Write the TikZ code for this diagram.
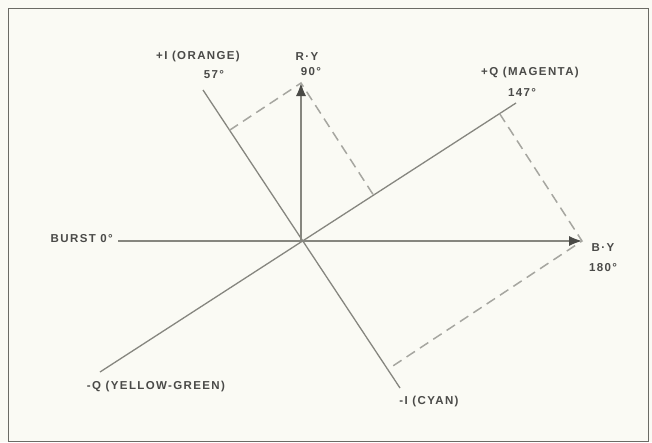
\documentclass[tikz,border=0pt]{standalone}
\usepackage{fontspec}
\setmainfont{Liberation Sans}
\usetikzlibrary{arrows.meta, calc}
\definecolor{vecgrey}{HTML}{86867F}
\definecolor{tipgrey}{HTML}{4A4A46}
\definecolor{dashgrey}{HTML}{A6A6A0}
\definecolor{txtgrey}{HTML}{4A4A48}
\definecolor{paper}{HTML}{FAFAF4}

\begin{document}
\begin{tikzpicture}[
    x=1pt, y=-1pt,
    axis/.style={vecgrey, line width=1.3pt},
    vec/.style={axis, -{Latex[length=13pt, width=10pt, color=tipgrey]}},
    proj/.style={dashgrey, line width=1.5pt, dash pattern=on 10pt off 6pt},
    lbl/.style={font=\fontsize{11.5}{13}\selectfont\bfseries\addfontfeature{LetterSpace=12},
      text=txtgrey, inner sep=1pt}]

  \useasboundingbox[fill=paper] (0,0) rectangle (652,442);
  \draw[vecgrey!80!black, line width=1pt] (8,8) rectangle (648,441);

  \coordinate (o) at (301,241);
  \coordinate (ry) at (301,83);
  \coordinate (by) at (582,241);
  \coordinate (burst) at (118,241);
  \coordinate (pi) at (203,90);
  \coordinate (mi) at (400,388);
  \coordinate (pq) at (516,103);
  \coordinate (mq) at (100,372);

  \draw[axis] (burst) -- (o);
  \draw[axis] (pi) -- (mi);
  \draw[axis] (mq) -- (pq);
  \draw[vec] (o) -- (ry);
  \draw[vec] (o) -- (by);

  \draw[proj] ($(pi)!(ry)!(mi)$) -- (ry) -- ($(mq)!(ry)!(pq)$);
  \draw[proj] ($(mq)!(by)!(pq)$) -- (by) -- ($(pi)!(by)!(mi)$);

  \node[lbl] (plusi) at (198,57) {+I (ORANGE)};
  \node[lbl] (plusideg) at (214,75) {57°};
  \node[lbl] (rylbl) at (307,57) {R·Y};
  \node[lbl] (rydeg) at (311,72) {90°};
  \node[lbl] (plusq) at (530,73) {+Q (MAGENTA)};
  \node[lbl] (plusqdeg) at (522,92) {147°};
  \node[lbl, anchor=east] (burstlbl) at (114,239) {BURST 0°};
  \node[lbl] (bylbl) at (603,248) {B·Y};
  \node[lbl] (bydeg) at (603,268) {180°};
  \node[lbl] (minusq) at (156,387) {-Q (YELLOW-GREEN)};
  \node[lbl] (minusi) at (429,402) {-I (CYAN)};
\end{tikzpicture}
\end{document}
